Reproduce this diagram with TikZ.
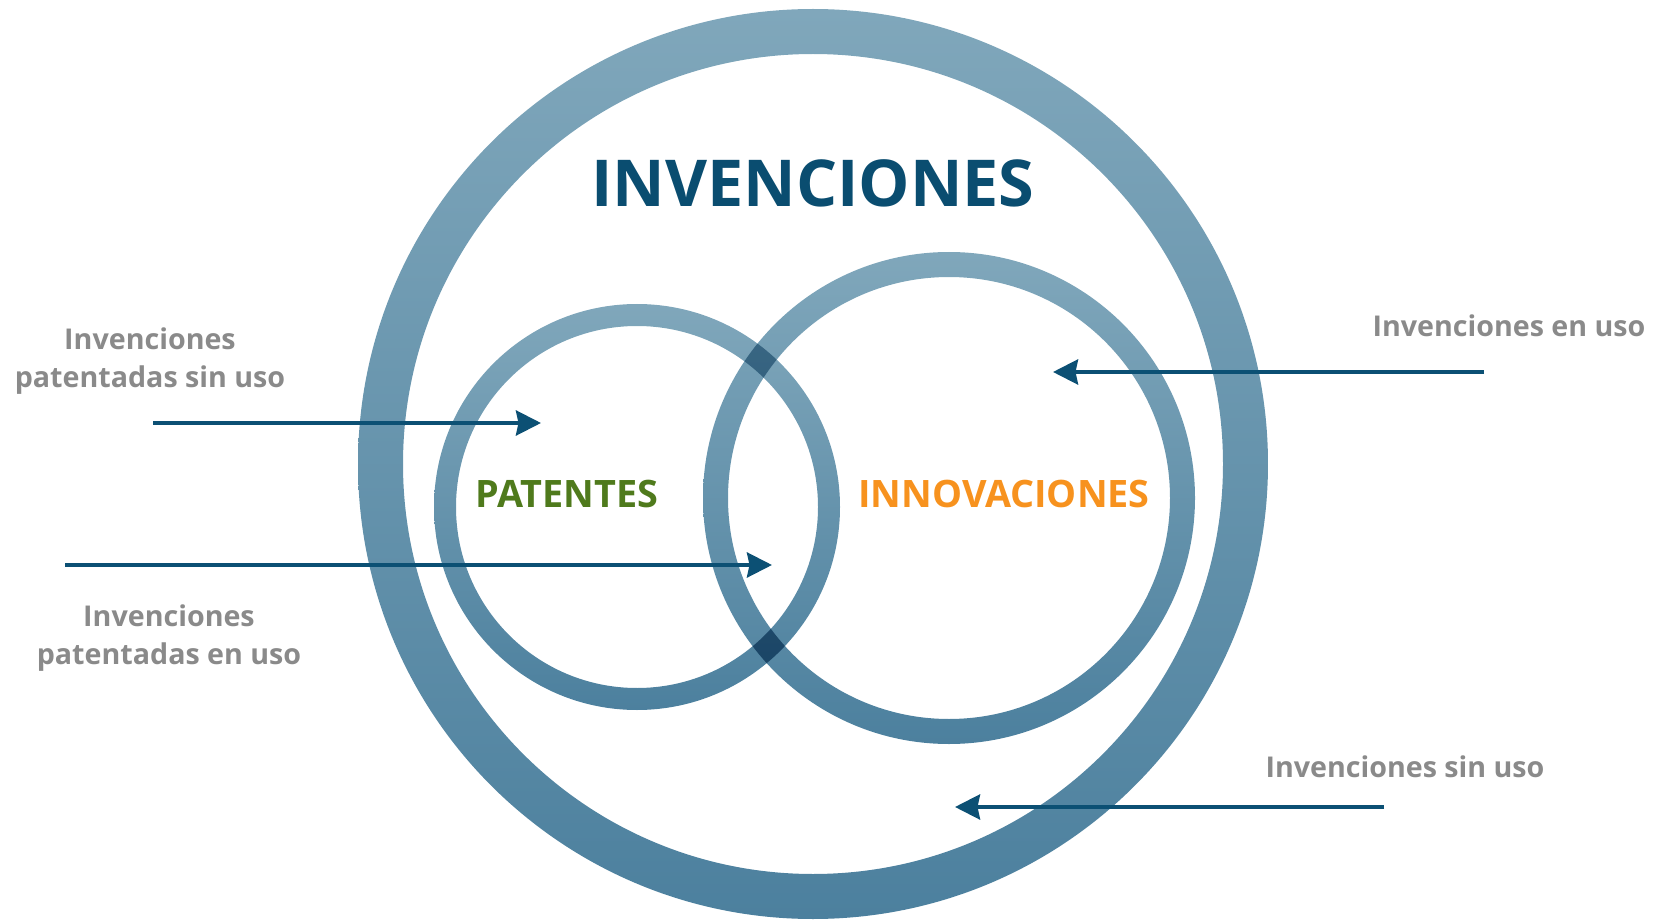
\documentclass[tikz,border=0pt]{standalone}
\usepackage{fontspec}
\setmainfont{Open Sans}
\usetikzlibrary{arrows.meta}
\definecolor{anillotop}{RGB}{128,167,187}
\definecolor{anillobot}{RGB}{76,128,158}
\definecolor{azulflecha}{RGB}{12,80,116}
\definecolor{azultitulo}{RGB}{10,77,112}
\definecolor{verdepat}{RGB}{79,122,28}
\definecolor{naranjainn}{RGB}{247,146,30}
\definecolor{grisetiq}{RGB}{138,138,138}
\tikzset{
  anillo/.style={top color=anillotop, bottom color=anillobot, even odd rule},
  flechaazul/.style={draw=azulflecha, line width=0.08cm,
    -{Stealth[length=0.5cm,width=0.5cm,inset=0.05cm,fill=azulflecha]}},
  titulo/.style={text=azultitulo, font=\fontsize{36.8}{44}\selectfont\bfseries},
  conjunto/.style={font=\fontsize{21.5}{25}\selectfont\bfseries},
  etiqueta/.style={text=grisetiq, align=center,
    font=\fontsize{16.3}{22}\selectfont\bfseries}
}
\begin{document}
\begin{tikzpicture}[x=0.02cm,y=-0.02cm]
\useasboundingbox (0,0) rectangle (1654,922);
% anillos
\shade[anillo] (813,464) circle (455) (813,464) circle (410);
\begin{scope}[blend mode=multiply]
\shade[anillo] (637,507) circle (203) (637,507) circle (181);
\shade[anillo] (949,498) circle (246) (949,498) circle (221);
\end{scope}
% textos
\node[titulo] (inv) at (813,183) {INVENCIONES};
\node[conjunto, text=verdepat] (pat) at (567,494) {PATENTES};
\node[conjunto, text=naranjainn] (inn) at (1004,494) {INNOVACIONES};
\node[etiqueta] (psu) at (150,361) {Invenciones\\patentadas sin uso};
\node[etiqueta] (peu) at (169,638) {Invenciones\\patentadas en uso};
\node[etiqueta] (eu) at (1509,326) {Invenciones en uso};
\node[etiqueta] (su) at (1405,767) {Invenciones sin uso};
% flechas
\coordinate (psu1) at (153,423); \coordinate (psu2) at (541,423);
\coordinate (peu1) at (65,565);  \coordinate (peu2) at (772,565);
\coordinate (eu1) at (1484,372); \coordinate (eu2) at (1053,372);
\coordinate (su1) at (1384,807); \coordinate (su2) at (955,807);
\draw[flechaazul] (psu1)--(psu2);
\draw[flechaazul] (peu1)--(peu2);
\draw[flechaazul] (eu1)--(eu2);
\draw[flechaazul] (su1)--(su2);
\end{tikzpicture}
\end{document}
